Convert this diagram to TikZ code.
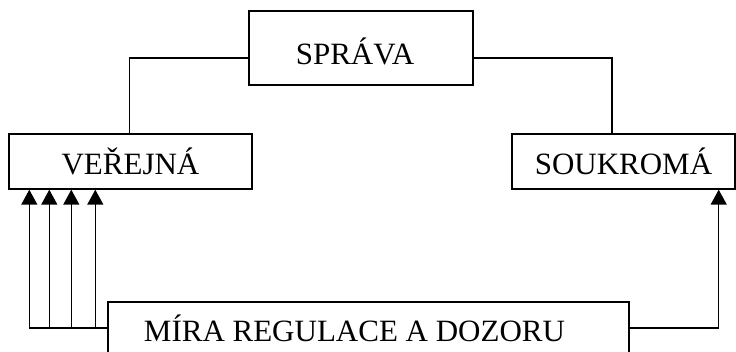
\documentclass[tikz,border=0pt]{standalone}
\usepackage{fontspec}
\setmainfont{Liberation Serif}
\usetikzlibrary{arrows.meta}
\begin{document}
\begin{tikzpicture}[x=1pt,y=1pt,
  box/.style={draw,line width=1.4pt,inner sep=0pt,font=\fontsize{31}{36}\selectfont},
  conn/.style={line width=1.4pt},
  arr/.style={line width=1.4pt,-{Triangle[width=16pt,length=15pt]}}]
\useasboundingbox (0,0) rectangle (736,351);
\clip (0,0) rectangle (736,351);
\node[box,minimum width=224pt,minimum height=74pt,text height=33pt,text depth=0pt] (sprava) at (361,303) {\hspace*{-12pt}SPRÁVA};
\node[box,minimum width=243pt,minimum height=55pt] (verejna) at (130.5,189.5) {VEŘEJNÁ};
\node[box,minimum width=223pt,minimum height=55pt] (soukroma) at (623.5,189.5) {SOUKROMÁ};
\node[box,minimum width=521pt,minimum height=52pt] (mira) at (368.5,23) {\hspace*{-28pt}MÍRA REGULACE A DOZORU};
\draw[conn] ([yshift=-10pt]sprava.west) -| ([xshift=-1pt]verejna.north);
\draw[conn] ([yshift=-10pt]sprava.east) -| ([xshift=-11.5pt]soukroma.north);
\draw[arr] (mira.west) -| ([xshift=21pt]verejna.south west);
\draw[arr] (mira.west) -| ([xshift=41pt]verejna.south west);
\draw[arr] (mira.west) -| ([xshift=63pt]verejna.south west);
\draw[arr] (mira.west) -| ([xshift=87pt]verejna.south west);
\draw[arr] (mira.east) -| ([xshift=-17pt]soukroma.south east);
\end{tikzpicture}
\end{document}
